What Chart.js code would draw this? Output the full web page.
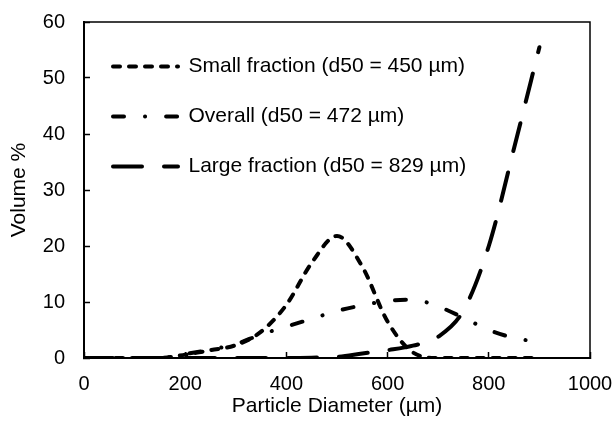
<!DOCTYPE html>
<html>
<head>
<meta charset="utf-8">
<script src="https://cdn.jsdelivr.net/npm/chart.js"></script>
<style>
  html, body { margin: 0; padding: 0; background: #fff; }
  #wrap { width: 616px; height: 435px; }
</style>
</head>
<body>
<div id="wrap"><canvas id="psd-chart" width="616" height="435"></canvas></div>
<script>
// particle size distribution
var diameters     = [0, 50, 100, 150, 200, 250, 300, 350, 400, 450, 500, 550, 600, 650, 700, 750, 800, 850, 900];
var smallFraction = [0, 0, 0, 0, 0.6, 1.4, 2.3, 4.7, 9.5, 17, 21.8, 16.3, 6.5, 1.0, 0, 0, 0, 0, 0];
var overall       = [0, 0, 0, 0, 0.7, 1.5, 2.5, 4.2, 5.6, 7.0, 8.4, 9.4, 10.2, 10.4, 9.2, 7.2, 5.0, 3.6, 2.8];
var largeFraction = [0, 0, 0, 0, 0, 0, 0, 0, 0, 0.05, 0.2, 0.8, 1.4, 2.2, 3.8, 8.5, 20, 37.5, 55.5];

var xTicks = [0, 200, 400, 600, 800, 1000];
var yTicks = [0, 10, 20, 30, 40, 50, 60];

var labels = ['Small fraction (d50 = 450 µm)', 'Overall (d50 = 472 µm)', 'Large fraction (d50 = 829 µm)'];

function toPoints(values) {
    return values.map(function(v, i) { return { x: diameters[i], y: v }; });
}

Chart.defaults.font.family = 'Liberation Sans, Arial, sans-serif';
Chart.defaults.font.size = 21;
Chart.defaults.color = '#000';

// box around the plot area
var plotBorder = {
    id: 'plotBorder',
    afterDraw: function(chart) {
        var a = chart.chartArea, ctx = chart.ctx;
        ctx.save();
        ctx.strokeStyle = '#000';
        ctx.lineWidth = 1.5;
        ctx.strokeRect(a.left, a.top, a.right - a.left, a.bottom - a.top);
        ctx.restore();
    }
};

// fixed axis sizes, and no extra padding round the plot
function fitX(axis) {
    axis.paddingLeft = axis.paddingRight = axis.paddingTop = axis.paddingBottom = 0;
    axis.height = 61;
}
function fitY(axis) {
    axis.paddingLeft = axis.paddingRight = axis.paddingTop = axis.paddingBottom = 0;
    axis.width = 77;
}

var lineStyle = {
    borderColor: '#000',
    backgroundColor: '#000',
    borderWidth: 4,
    borderCapStyle: 'round',
    pointRadius: 0,
    fill: false,
    cubicInterpolationMode: 'monotone'
};

var ctx = document.getElementById('psd-chart').getContext('2d');
var psdChart = new Chart(ctx, {
    type: 'line',
    data: {
        datasets: [
            Object.assign({ label: labels[0], data: toPoints(smallFraction), borderDash: [7, 9] }, lineStyle),
            Object.assign({ label: labels[1], data: toPoints(overall), borderDash: [11, 21, 0.1, 21] }, lineStyle),
            Object.assign({ label: labels[2], data: toPoints(largeFraction), borderDash: [29, 22] }, lineStyle)
        ]
    },
    options: {
        responsive: false,
        animation: false,
        layout: { padding: { left: 7, right: 26, top: 22, bottom: 16 } },
        scales: {
            x: {
                type: 'linear',
                min: 0,
                max: 1000,
                afterBuildTicks: function(axis) { axis.ticks = xTicks.map(function(v) { return { value: v }; }); },
                afterFit: fitX,
                grid: { drawOnChartArea: false, tickLength: -6, tickWidth: 1.5, tickColor: '#000' },
                border: { color: '#000', width: 2 },
                ticks: { padding: 20, maxRotation: 0, font: { size: 20 }, callback: function(v) { return String(v); } },
                title: { display: true, text: 'Particle Diameter (µm)', padding: { top: 1, bottom: 0 } }
            },
            y: {
                min: 0,
                max: 60,
                afterBuildTicks: function(axis) { axis.ticks = yTicks.map(function(v) { return { value: v }; }); },
                afterFit: fitY,
                grid: { drawOnChartArea: false, tickLength: -6, tickWidth: 1.5, tickColor: '#000' },
                border: { color: '#000', width: 2 },
                ticks: { padding: 25, font: { size: 20 } },
                title: { display: true, text: 'Volume %', padding: { top: 0, bottom: 9 } }
            }
        },
        plugins: {
            legend: {
                position: 'chartArea',
                align: 'start',
                title: { display: true, text: ' ', font: { size: 10 }, padding: { top: 0, bottom: 15 } },
                labels: {
                    usePointStyle: true,
                    pointStyle: 'line',
                    pointStyleWidth: 65,
                    padding: 29,
                    color: '#000',
                    font: { size: 21 },
                    generateLabels: function(chart) {
                        var items = Chart.defaults.plugins.legend.labels.generateLabels(chart);
                        items.forEach(function(item) {
                            var ds = chart.data.datasets[item.datasetIndex];
                            item.lineDash = ds.borderDash;
                            item.lineWidth = ds.borderWidth;
                            item.lineCap = 'round';
                            item.strokeStyle = '#000';
                            item.pointStyle = 'line';
                        });
                        return items;
                    }
                }
            },
            tooltip: { enabled: false }
        }
    },
    plugins: [plotBorder]
});
</script>
</body>
</html>
